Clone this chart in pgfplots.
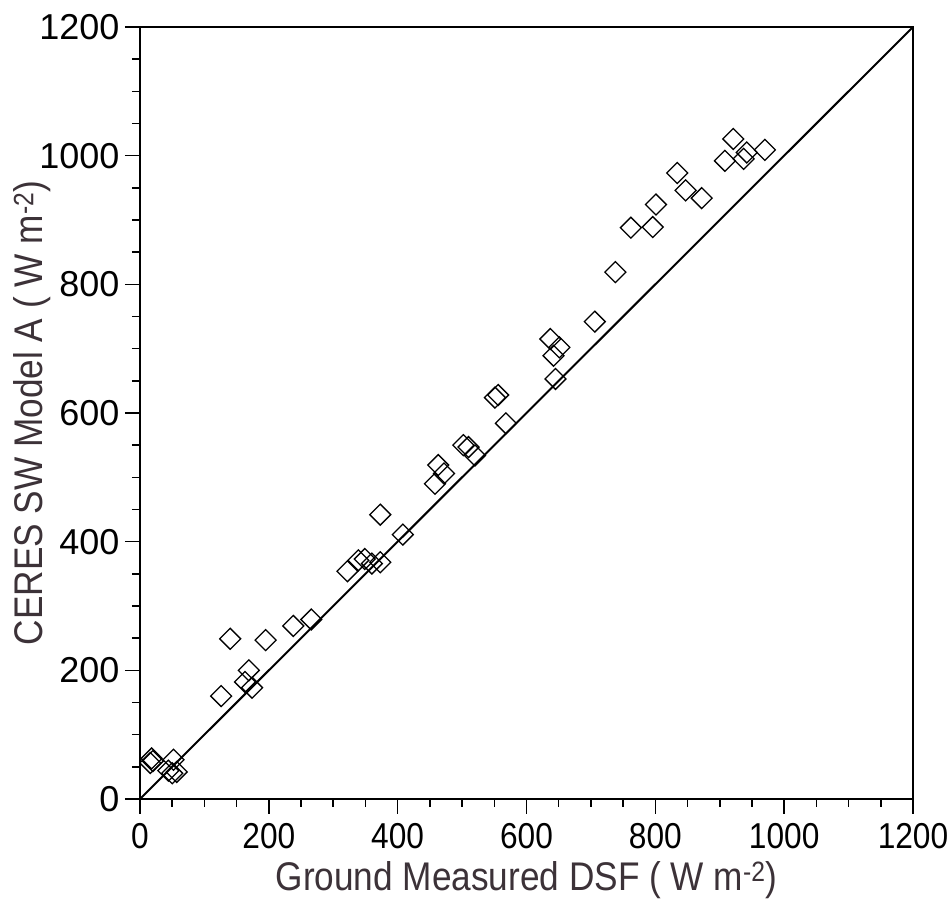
\documentclass[border=0pt]{standalone}
\usepackage{fontspec}
\setmainfont{Liberation Sans}
\usepackage{graphicx}
\usepackage{pgfplots}
\pgfplotsset{compat=1.18}
\definecolor{labcol}{RGB}{60,50,56}
\begin{document}
\begin{tikzpicture}
\begin{axis}[
 scale only axis, width=773pt, height=772pt,
 xmin=0,xmax=1200,ymin=0,ymax=1200,
 xtick={0,200,...,1200}, ytick={0,200,...,1200},
 minor tick num=3,
 xtick pos=bottom, ytick pos=left,
 tick align=outside,
 major tick length=15pt, minor tick length=8pt,
 axis line style={line width=2pt},
 every tick/.style={black, line width=1.5pt},
 tick label style={font=\fontsize{36}{40}\selectfont},
 xticklabel style={yshift=-6pt},
 xticklabel={\scalebox{0.88}[1]{\pgfmathprintnumber{\tick}}},
 yticklabel style={xshift=-2pt},
 /pgf/number format/assume math mode=true,
 /pgf/number format/1000 sep={},
 label style={font=\fontsize{40}{44}\selectfont, text=labcol},
 xlabel style={at={(axis description cs:0.5,-0.1049)}, anchor=center},
 ylabel style={at={(axis description cs:-0.1397,0.5)}, anchor=center},
 xlabel={\scalebox{0.88}[1]{Ground Measured DSF ( W m\textsuperscript{-2})}},
 ylabel={\scalebox{0.88}[1]{CERES SW Model A ( W m\textsuperscript{-2})}},
 clip=false,
]
\addplot[line width=2pt, black] coordinates {(0,0) (1200,1200)};
\addplot[only marks, mark=square, mark size=7.4pt, mark options={rotate=45, line width=1.3pt, black}] table {
x y
18 63
16 56
20 59
52 61
44 44
57 42
50 40
126 160
163 182
169 200
174 173
140 249
195 247
238 269
266 279
322 354
339 371
349 373
360 366
373 368
373 442
408 411
458 490
463 519
472 506
502 550
510 547
520 534
551 624
556 628
568 584
637 715
642 689
651 702
645 653
706 742
738 819
762 888
796 889
801 924
834 973
847 946
872 934
908 992
921 1026
937 995
942 1005
970 1009
};
\end{axis}
\pgfresetboundingbox
\path ([shift={(-140pt,-103pt)}]current axis.south west) rectangle ([shift={(38pt,27pt)}]current axis.north east);
\end{tikzpicture}
\end{document}
